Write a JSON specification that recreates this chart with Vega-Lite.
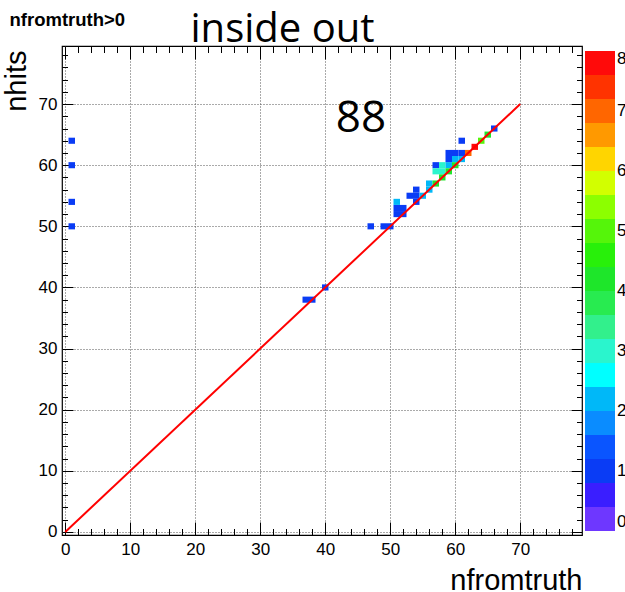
{
  "$schema": "https://vega.github.io/schema/vega-lite/v6.json",
  "width": 520,
  "height": 489,
  "autosize": "none",
  "padding": {"left": 62, "top": 46, "right": 43, "bottom": 57},
  "background": "white",
  "config": {
    "view": {"stroke": "black", "strokeWidth": 1.2},
    "font": "Liberation Sans",
    "axis": {"labelFont": "Liberation Sans", "titleFont": "Liberation Sans", "labelColor": "black", "titleColor": "black", "tickColor": "black", "domain": false}
  },
  "datasets": {
    "cells": [
      {"nfromtruth": 1, "nhits": 64, "count": 1},
      {"nfromtruth": 1, "nhits": 60, "count": 1},
      {"nfromtruth": 1, "nhits": 54, "count": 1},
      {"nfromtruth": 1, "nhits": 50, "count": 1},
      {"nfromtruth": 37, "nhits": 38, "count": 1},
      {"nfromtruth": 38, "nhits": 38, "count": 1},
      {"nfromtruth": 40, "nhits": 40, "count": 1},
      {"nfromtruth": 47, "nhits": 50, "count": 1},
      {"nfromtruth": 49, "nhits": 50, "count": 1},
      {"nfromtruth": 50, "nhits": 50, "count": 1},
      {"nfromtruth": 51, "nhits": 52, "count": 1},
      {"nfromtruth": 51, "nhits": 53, "count": 1},
      {"nfromtruth": 52, "nhits": 53, "count": 1},
      {"nfromtruth": 51, "nhits": 54, "count": 2},
      {"nfromtruth": 52, "nhits": 52, "count": 1},
      {"nfromtruth": 53, "nhits": 55, "count": 1},
      {"nfromtruth": 54, "nhits": 55, "count": 1},
      {"nfromtruth": 54, "nhits": 56, "count": 1},
      {"nfromtruth": 54, "nhits": 54, "count": 1},
      {"nfromtruth": 55, "nhits": 55, "count": 2},
      {"nfromtruth": 56, "nhits": 56, "count": 2},
      {"nfromtruth": 56, "nhits": 57, "count": 2},
      {"nfromtruth": 57, "nhits": 57, "count": 4},
      {"nfromtruth": 57, "nhits": 60, "count": 1},
      {"nfromtruth": 58, "nhits": 60, "count": 3},
      {"nfromtruth": 59, "nhits": 60, "count": 2},
      {"nfromtruth": 60, "nhits": 60, "count": 4},
      {"nfromtruth": 57, "nhits": 59, "count": 3},
      {"nfromtruth": 58, "nhits": 59, "count": 3},
      {"nfromtruth": 59, "nhits": 59, "count": 4},
      {"nfromtruth": 58, "nhits": 58, "count": 4},
      {"nfromtruth": 59, "nhits": 61, "count": 1},
      {"nfromtruth": 60, "nhits": 61, "count": 2},
      {"nfromtruth": 61, "nhits": 61, "count": 2},
      {"nfromtruth": 59, "nhits": 62, "count": 1},
      {"nfromtruth": 60, "nhits": 62, "count": 1},
      {"nfromtruth": 61, "nhits": 62, "count": 1},
      {"nfromtruth": 62, "nhits": 62, "count": 7},
      {"nfromtruth": 61, "nhits": 64, "count": 1},
      {"nfromtruth": 63, "nhits": 63, "count": 8},
      {"nfromtruth": 64, "nhits": 64, "count": 5},
      {"nfromtruth": 65, "nhits": 65, "count": 4},
      {"nfromtruth": 66, "nhits": 66, "count": 1}
    ],
    "diag": [
      {"nfromtruth": 0, "nhits": 0},
      {"nfromtruth": 70, "nhits": 70}
    ]
  },
  "layer": [
    {
      "data": {"name": "cells"},
      "mark": {"type": "point", "shape": "M-1,-0.94H1V0.94H-1Z", "size": 42.25, "filled": true, "opacity": 1, "strokeWidth": 0},
      "encoding": {
        "x": {
          "field": "nfromtruth", "type": "quantitative",
          "scale": {"domain": [-0.5, 79.5], "nice": false, "zero": false},
          "axis": {
            "orient": "bottom",
            "values": [0,2,4,6,8,10,12,14,16,18,20,22,24,26,28,30,32,34,36,38,40,42,44,46,48,50,52,54,56,58,60,62,64,66,68,70,72,74,76,78],
            "labelExpr": "datum.value % 10 === 0 && datum.value <= 70 ? datum.label : ''",
            "tickSize": {"condition": {"test": "datum.value % 10 === 0", "value": -13}, "value": -6.5},
            "tickWidth": 1,
            "grid": true,
            "gridOpacity": {"condition": {"test": "datum.value % 10 === 0", "value": 1}, "value": 0},
            "gridDash": [1, 2],
            "gridColor": "#555",
            "labelFontSize": 17,
            "labelPadding": 19,
            "labelFlush": false,
            "labelOverlap": false,
            "title": "nfromtruth",
            "titleFontSize": 29,
            "titleFontWeight": "normal",
            "titleAlign": "right",
            "titleBaseline": "alphabetic",
            "titleX": 520,
            "titleY": 54
          }
        },
        "y": {
          "field": "nhits", "type": "quantitative",
          "scale": {"domain": [-0.5, 79.5], "nice": false, "zero": false},
          "axis": {
            "orient": "left",
            "values": [0,2,4,6,8,10,12,14,16,18,20,22,24,26,28,30,32,34,36,38,40,42,44,46,48,50,52,54,56,58,60,62,64,66,68,70,72,74,76,78],
            "labelExpr": "datum.value % 10 === 0 && datum.value <= 70 ? datum.label : ''",
            "tickSize": {"condition": {"test": "datum.value % 10 === 0", "value": -11}, "value": -5.5},
            "tickWidth": 1,
            "grid": true,
            "gridOpacity": {"condition": {"test": "datum.value % 10 === 0", "value": 1}, "value": 0},
            "gridDash": [1, 2],
            "gridColor": "#555",
            "labelFontSize": 17,
            "labelPadding": 16,
            "labelFlush": false,
            "labelOverlap": false,
            "title": "nhits",
            "titleFontSize": 29,
            "titleFontWeight": "normal",
            "titleAngle": 270,
            "titleAlign": "right",
            "titleBaseline": "alphabetic",
            "titleX": -37,
            "titleY": 4
          }
        },
        "color": {
          "field": "count", "type": "quantitative",
          "scale": {
            "type": "quantize",
            "domain": [0, 8],
            "range": ["#6e37ff","#3a1eff","#0a3cf5","#0a55ff","#0a8cff","#00b8f8","#00ffff","#2af5cd","#32f08c","#28eb50","#1ee62a","#28f00a","#55f50a","#8cff00","#d2ff00","#ffd500","#ff9900","#ff6600","#ff3300","#ff0a0a"]
          },
          "legend": {
            "type": "gradient",
            "orient": "none",
            "legendX": 523,
            "legendY": 5,
            "direction": "vertical",
            "gradientLength": 480,
            "gradientThickness": 30,
            "gradientStrokeWidth": 0,
            "values": [-0.0001,0,0.2,0.4,0.6,0.8,1,1.2,1.4,1.6,1.8,2,2.2,2.4,2.6,2.8,3,3.2,3.4,3.6,3.8,4,4.2,4.4,4.6,4.8,5,5.2,5.4,5.6,5.8,6,6.2,6.4,6.6,6.8,7,7.2,7.4,7.6,7.8,8],
            "labelExpr": "datum.value % 1 === 0 ? datum.label : ''",
            "labelFontSize": 17,
            "labelFont": "Liberation Sans",
            "labelColor": "black",
            "labelOffset": 2,
            "labelOverlap": false,
            "labelBaseline": "middle",
            "title": null
          }
        }
      }
    },
    {
      "data": {"name": "diag"},
      "mark": {"type": "line", "color": "#ff0000", "strokeWidth": 2},
      "encoding": {
        "x": {
          "field": "nfromtruth", "type": "quantitative",
          "scale": {"domain": [-0.5, 79.5], "nice": false, "zero": false},
          "axis": {
            "orient": "top",
            "values": [0,2,4,6,8,10,12,14,16,18,20,22,24,26,28,30,32,34,36,38,40,42,44,46,48,50,52,54,56,58,60,62,64,66,68,70,72,74,76,78],
            "labels": false,
            "tickSize": {"condition": {"test": "datum.value % 10 === 0", "value": -13}, "value": -6.5},
            "tickWidth": 1,
            "grid": false,
            "title": "inside out",
            "titleFont": "Open Sans",
            "titleFontSize": 40,
            "titleFontWeight": "normal",
            "titleAlign": "center",
            "titleBaseline": "alphabetic",
            "titleAngle": 0,
            "titleX": 220,
            "titleY": -5
          }
        },
        "y": {
          "field": "nhits", "type": "quantitative",
          "scale": {"domain": [-0.5, 79.5], "nice": false, "zero": false},
          "axis": {
            "orient": "right",
            "values": [0,2,4,6,8,10,12,14,16,18,20,22,24,26,28,30,32,34,36,38,40,42,44,46,48,50,52,54,56,58,60,62,64,66,68,70,72,74,76,78],
            "labels": false,
            "tickSize": {"condition": {"test": "datum.value % 10 === 0", "value": -11}, "value": -5.5},
            "tickWidth": 1,
            "grid": false,
            "title": "nfromtruth>0",
            "titleFont": "Liberation Sans",
            "titleFontSize": 18.5,
            "titleFontWeight": "bold",
            "titleAngle": 0,
            "titleAlign": "left",
            "titleBaseline": "alphabetic",
            "titleX": -573,
            "titleY": -21
          }
        }
      }
    },
    {
      "data": {"values": [{}]},
      "mark": {"type": "text", "text": "88", "font": "Open Sans", "fontSize": 44, "align": "center", "baseline": "middle", "color": "black"},
      "encoding": {
        "x": {"datum": 45.5, "type": "quantitative", "scale": {"domain": [-0.5, 79.5], "nice": false, "zero": false}, "axis": null},
        "y": {"datum": 67.6, "type": "quantitative", "scale": {"domain": [-0.5, 79.5], "nice": false, "zero": false}, "axis": null}
      }
    }
  ],
  "resolve": {"scale": {"x": "independent", "y": "independent"}}
}
